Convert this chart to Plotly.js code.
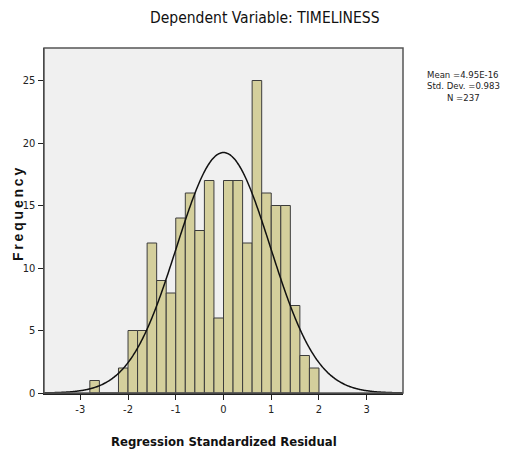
<!DOCTYPE html>
<html>
<head>
<meta charset="utf-8">
<script src="https://cdn.plot.ly/plotly-3.0.1.min.js"></script>
<style>html,body{margin:0;padding:0;background:#fff;}#chart{width:505px;height:451px;}</style>
</head>
<body>
<div id="chart"></div>
<script>
// Histogram bins (centres, width 0.2) and frequencies
const binCenters = [-2.7, -2.5, -2.3, -2.1, -1.9, -1.7, -1.5, -1.3, -1.1, -0.9, -0.7, -0.5, -0.3, -0.1, 0.1, 0.3, 0.5, 0.7, 0.9, 1.1, 1.3, 1.5, 1.7, 1.9];
const counts = [1, 0, 0, 2, 5, 5, 12, 9, 8, 14, 16, 13, 17, 6, 17, 17, 12, 25, 16, 15, 15, 7, 3, 2];
const binWidth = 0.2;
// Summary statistics shown on the chart
const meanVal = 4.95e-16;
const sdVal = 0.983;
const nVal = 237;
const statLines = ["Mean =4.95E-16", "Std. Dev. =0.983", "N =237"];
const xTicks = [-3, -2, -1, 0, 1, 2, 3];
const yTicks = [0, 5, 10, 15, 20, 25];

// Fitted normal curve (scaled to counts) from the stated mean / sd / N
const curveX = [], curveY = [];
for (let i = 0; i <= 376; i++) {
  const x = -3.76 + i * 0.02;
  curveX.push(x);
  const z = (x - meanVal) / sdVal;
  curveY.push(nVal * binWidth * Math.exp(-0.5 * z * z) / (sdVal * Math.sqrt(2 * Math.PI)));
}

const narrow = "Liberation Sans Narrow, DejaVu Sans Condensed, Arial Narrow, sans-serif";

const data = [
  {
    type: 'bar', x: binCenters, y: counts, width: binWidth,
    marker: {color: '#d4cf9c', line: {color: '#3c3c3c', width: 1}},
    hoverinfo: 'x+y', showlegend: false
  },
  {
    type: 'scatter', mode: 'lines', x: curveX, y: curveY,
    line: {color: '#111111', width: 1.5, shape: 'spline'},
    hoverinfo: 'skip', showlegend: false
  }
];

const annotations = [
  {text: 'Dependent Variable: TIMELINESS', xref: 'paper', yref: 'paper', x: 0.615, y: 1, yshift: 30,
   showarrow: false, xanchor: 'center', yanchor: 'middle',
   font: {family: narrow, size: 15.5, color: '#111'}},
  {text: 'Regression Standardized Residual', xref: 'paper', yref: 'paper', x: 0.5, y: 0, yshift: -48,
   showarrow: false, xanchor: 'center', yanchor: 'middle',
   font: {family: narrow, size: 13, color: '#111', weight: 'bold'}},
  {text: 'F\u2009r\u2009e\u2009q\u2009u\u2009e\u2009n\u2009c\u2009y', xref: 'paper', yref: 'paper', x: 0, xshift: -26.5, y: 0.5, yshift: 6,
   showarrow: false, xanchor: 'center', yanchor: 'middle', textangle: -90,
   font: {family: 'Liberation Sans, Arial, sans-serif', size: 14, color: '#111', weight: 'bold'}}
];
statLines.forEach((s, i) => {
  annotations.push({text: s, xref: 'paper', yref: 'paper', x: 1, xshift: 60, y: 1, yshift: -26 - 11.5 * i,
    showarrow: false, xanchor: 'center', yanchor: 'middle', borderpad: 0,
    font: {family: narrow, size: 9.5, color: '#222'}});
});

const layout = {
  width: 505, height: 451,
  margin: {l: 44, r: 102, t: 48, b: 58},
  paper_bgcolor: '#ffffff', plot_bgcolor: '#f0f0f0',
  bargap: 0,
  font: {family: narrow, color: '#111', size: 11},
  xaxis: {
    range: [-3.76, 3.76], tickvals: xTicks, ticktext: xTicks.map(String),
    ticks: 'outside', ticklen: 5, tickcolor: '#222', showgrid: false, zeroline: false,
    showline: true, linecolor: '#222', linewidth: 1.5,
    tickfont: {family: narrow, size: 11, color: '#222'}
  },
  yaxis: {
    range: [0, 27.6], tickvals: yTicks, ticktext: yTicks.map(String),
    ticks: 'outside', ticklen: 5, tickcolor: '#222', showgrid: false, zeroline: false,
    showline: true, linecolor: '#222', linewidth: 1.5,
    tickfont: {family: narrow, size: 11, color: '#222'}
  },
  shapes: [
    {type: 'rect', xref: 'paper', yref: 'paper', x0: 0, x1: 1, y0: 0, y1: 1,
     line: {color: '#555555', width: 1.5}, fillcolor: 'rgba(0,0,0,0)', layer: 'above'}
  ],
  annotations: annotations
};

Plotly.newPlot('chart', data, layout, {displayModeBar: false, staticPlot: true});
</script>
</body>
</html>
